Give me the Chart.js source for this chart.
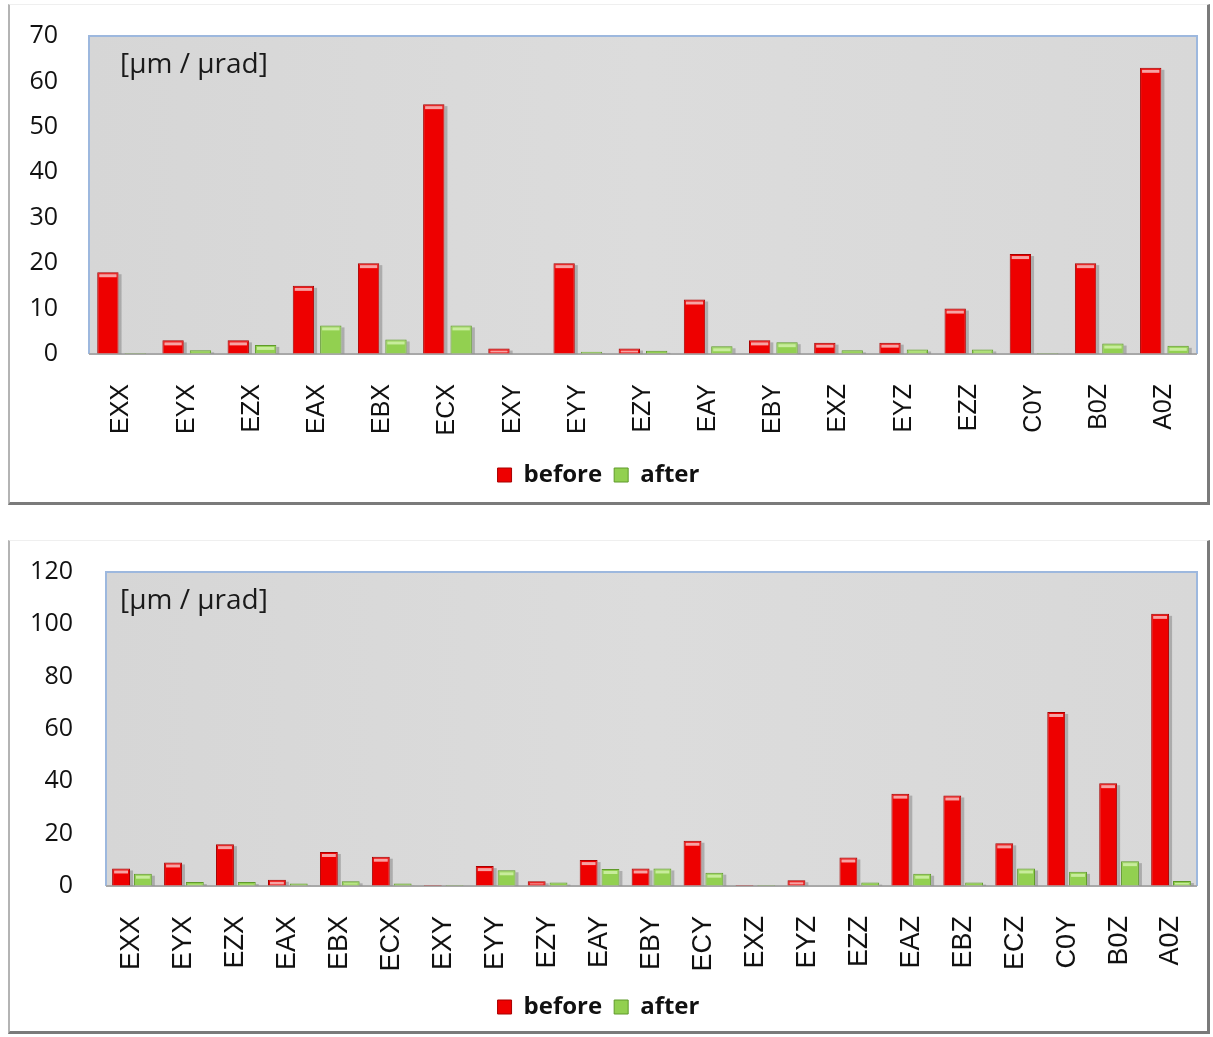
<!DOCTYPE html>
<html>
<head>
<meta charset="utf-8">
<script src="https://cdn.jsdelivr.net/npm/chart.js@4"></script>
<style>
  html, body { margin: 0; padding: 0; background: #ffffff; }
  body { width: 1213px; height: 1037px; position: relative; overflow: hidden; }
  .frame { position: absolute; box-sizing: border-box; background: #fff;
           border-left: 2px solid #b4b4b4; border-top: 1px solid #efefef;
           border-right: 3px solid #7a7a7a; border-bottom: 3px solid #7a7a7a; }
  canvas { position: absolute; left: 0; }
</style>
</head>
<body>
<div class="frame" style="left:8px; top:4px; width:1202px; height:501px;"></div>
<div class="frame" style="left:8px; top:540px; width:1202px; height:494px;"></div>
<canvas id="c1" style="top:0px;" width="1213" height="505"></canvas>
<canvas id="c2" style="top:540px;" width="1213" height="497"></canvas>
<script>
// ---------- data ----------
const categories1 = ["EXX","EYX","EZX","EAX","EBX","ECX","EXY","EYY","EZY","EAY","EBY","EXZ","EYZ","EZZ","C0Y","B0Z","A0Z"];
const before1 = [18, 3, 3, 15, 20, 55, 1.2, 20, 1.2, 12, 3, 2.5, 2.5, 10, 22, 20, 63];
const after1  = [0.2, 0.8, 2, 6.3, 3.2, 6.3, 0, 0.5, 0.7, 1.7, 2.6, 0.8, 1, 1, 0.2, 2.3, 1.8];

const categories2 = ["EXX","EYX","EZX","EAX","EBX","ECX","EXY","EYY","EZY","EAY","EBY","ECY","EXZ","EYZ","EZZ","EAZ","EBZ","ECZ","C0Y","B0Z","A0Z"];
const before2 = [6.7, 9, 16, 2.4, 13, 11.2, 0.4, 7.6, 1.8, 9.9, 6.7, 17.3, 0.4, 2.2, 10.9, 35.3, 34.6, 16.3, 66.5, 39.3, 104];
const after2  = [4.7, 1.5, 1.5, 1, 1.8, 1, 0.4, 6, 1.3, 6.5, 6.7, 5.1, 0.4, 0, 1.3, 4.7, 1.3, 6.7, 5.4, 9.5, 1.9];

const seriesNames = ["before", "after"];
const unitLabel = "[µm / µrad]";
const yMax1 = 70, yStep1 = 10;
const yMax2 = 120, yStep2 = 20;

// ---------- styling ----------
const RED = "#ee0000", RED_EDGE = "#a80000", RED_CAP = "#f6a3a3";
const GREEN = "#92d050", GREEN_EDGE = "#5f9a2a", GREEN_CAP = "#c8ec9c";

const panelPlugin = {
  id: "panel",
  beforeDraw(chart) {
    const a = chart.chartArea, ctx = chart.ctx;
    ctx.save();
    const g = ctx.createLinearGradient(a.left, 0, a.right, 0);
    g.addColorStop(0, "#d6d6d6"); g.addColorStop(0.5, "#dcdcdc"); g.addColorStop(1, "#d8d8d8");
    ctx.fillStyle = g;
    ctx.fillRect(a.left, a.top, a.right - a.left, a.bottom - a.top);
    ctx.strokeStyle = "#9db8de"; ctx.lineWidth = 2;
    ctx.beginPath();
    ctx.moveTo(a.left, a.bottom); ctx.lineTo(a.left, a.top); ctx.lineTo(a.right, a.top); ctx.lineTo(a.right, a.bottom);
    ctx.stroke();
    ctx.strokeStyle = "#a8a8a8"; ctx.lineWidth = 2;
    ctx.beginPath(); ctx.moveTo(a.left, a.bottom); ctx.lineTo(a.right, a.bottom); ctx.stroke();
    ctx.fillStyle = "#1a1a1a";
    ctx.font = "28px 'Open Sans'";
    ctx.textBaseline = "middle"; ctx.textAlign = "left";
    ctx.fillText(unitLabel, 120, a.top + 29);
    ctx.restore();
  },
  beforeDatasetsDraw(chart) {
    const ctx = chart.ctx;
    ctx.save();
    ctx.fillStyle = "rgba(90,90,90,0.35)";
    chart.data.datasets.forEach((ds, i) => {
      chart.getDatasetMeta(i).data.forEach(bar => {
        const p = bar.getProps(["x","y","base","width"], true);
        const h = p.base - p.y;
        if (h < 1) return;
        ctx.fillRect(p.x + p.width/2, p.y + 2, 3, h - 2);
      });
    });
    ctx.restore();
  },
  afterDatasetsDraw(chart) {
    const ctx = chart.ctx;
    ctx.save();
    chart.data.datasets.forEach((ds, i) => {
      chart.getDatasetMeta(i).data.forEach(bar => {
        const p = bar.getProps(["x","y","base","width"], true);
        const h = p.base - p.y;
        if (h < 3) return;
        ctx.fillStyle = ds.capColor;
        ctx.fillRect(p.x - p.width/2 + 2, p.y + 2, p.width - 4, Math.min(3, h - 3));
      });
    });
    ctx.restore();
  }
};

function makeChart(id, labels, b, a, yMax, yStep, axisW, tickPad, padTop, xAxisH, barPct, xFont) {
  return new Chart(document.getElementById(id), {
    type: "bar",
    data: {
      labels: labels,
      datasets: [
        { label: seriesNames[0], data: b, backgroundColor: RED, borderColor: RED_EDGE, borderWidth: 1, capColor: RED_CAP },
        { label: seriesNames[1], data: a, backgroundColor: GREEN, borderColor: GREEN_EDGE, borderWidth: 1, capColor: GREEN_CAP }
      ]
    },
    options: {
      responsive: false,
      animation: false,
      devicePixelRatio: 1,
      categoryPercentage: 0.84,
      barPercentage: barPct,
      layout: { padding: { top: padTop, right: 16, bottom: 8, left: 0 } },
      plugins: {
        tooltip: { enabled: false },
        legend: {
          position: "bottom",
          labels: {
            boxWidth: 14, boxHeight: 14, padding: 12,
            color: "#111",
            font: { family: "'Open Sans'", size: 24, weight: "bold" }
          }
        }
      },
      scales: {
        x: {
          grid: { display: true, drawOnChartArea: false, drawTicks: true, tickLength: 30, color: "rgba(0,0,0,0)" },
          border: { display: false },
          ticks: { minRotation: 90, maxRotation: 90, autoSkip: false, padding: 0, color: "#111",
                   font: { family: "'Liberation Sans'", size: xFont } },
          afterFit(s) { s.height = xAxisH; }
        },
        y: {
          min: 0, max: yMax,
          grid: { display: true, drawOnChartArea: false, drawTicks: true, tickLength: tickPad, color: "rgba(0,0,0,0)" },
          border: { display: false },
          ticks: { stepSize: yStep, padding: 0, color: "#111",
                   font: { family: "'Open Sans'", size: 25 } },
          afterFit(s) { s.width = axisW; }
        }
      }
    },
    plugins: [panelPlugin]
  });
}

makeChart("c1", categories1, before1, after1, yMax1, yStep1, 89, 31, 36, 97, 0.78, 25);
makeChart("c2", categories2, before2, after2, yMax2, yStep2, 106, 33, 32, 97, 0.82, 27);
</script>
</body>
</html>
